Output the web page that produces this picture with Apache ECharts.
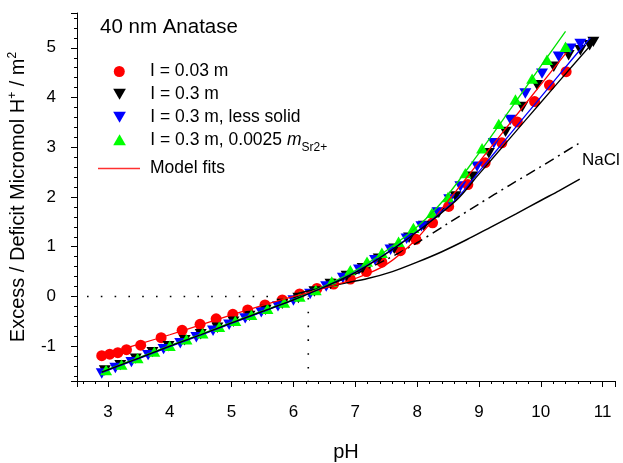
<!DOCTYPE html>
<html><head><meta charset="utf-8">
<script src="https://cdn.jsdelivr.net/npm/echarts@6/dist/echarts.min.js"></script>
<style>html,body{margin:0;padding:0;background:#fff}#c{width:623px;height:463px}</style>
</head><body><div id="c"></div>
<script>
const FONT = 'Liberation Sans, Arial, Helvetica, sans-serif';

// Axis ranges
const xRange = [2.5, 11.2];
const yRange = [-1.7, 5.7];

// Legend / series names
const names = ['I = 0.03 m', 'I = 0.3 m', 'I = 0.3 m, less solid', 'I = 0.3 m, 0.0025 mSr2+', 'Model fits'];

// I = 0.03 m (red circles)
const redPH = [2.90,3.03,3.16,3.30,3.53,3.86,4.20,4.49,4.75,5.02,5.26,5.54,5.82,6.10,6.38,6.65,6.92,7.18,7.43,7.73,7.98,8.25,8.51,8.82,9.10,9.37,9.62,9.90,10.14,10.41];
const redV  = [-1.19,-1.16,-1.13,-1.07,-0.98,-0.83,-0.68,-0.56,-0.45,-0.36,-0.27,-0.17,-0.07,0.05,0.16,0.25,0.35,0.50,0.69,0.92,1.15,1.48,1.81,2.25,2.69,3.09,3.51,3.92,4.25,4.52];

// I = 0.3 m (black down triangles)
const blackPH = [2.95,3.20,3.45,3.72,3.98,4.24,4.50,4.77,5.03,5.29,5.55,5.82,6.08,6.34,6.60,6.86,7.12,7.38,7.63,7.87,8.11,8.35,8.62,8.89,9.16,9.43,9.70,9.94,10.21,10.45,10.64,10.79,10.85];
const blackV  = [-1.49,-1.38,-1.25,-1.12,-1.00,-0.88,-0.76,-0.63,-0.51,-0.39,-0.27,-0.15,-0.03,0.10,0.25,0.41,0.57,0.76,0.96,1.18,1.42,1.68,2.01,2.41,2.88,3.31,3.81,4.25,4.62,4.85,4.95,5.05,5.12];

// I = 0.3 m, less solid (blue down triangles)
const bluePH = [2.90,3.12,3.38,3.65,3.90,4.17,4.43,4.70,4.96,5.22,5.48,5.75,6.00,6.27,6.53,6.80,7.06,7.32,7.57,7.83,8.07,8.33,8.52,8.70,8.97,9.24,9.51,9.75,10.02,10.29,10.48,10.64];
const blueV  = [-1.55,-1.44,-1.32,-1.18,-1.06,-0.94,-0.82,-0.69,-0.57,-0.44,-0.32,-0.20,-0.08,0.05,0.20,0.37,0.54,0.73,0.94,1.16,1.41,1.69,1.95,2.21,2.61,3.08,3.55,4.08,4.48,4.82,4.98,5.08];

// I = 0.3 m, 0.0025 m Sr2+ (green up triangles)
const greenPH = [2.97,3.22,3.48,3.75,4.00,4.27,4.53,4.80,5.06,5.32,5.58,5.85,6.10,6.36,6.62,6.92,7.19,7.43,7.70,7.94,8.24,8.50,8.78,9.05,9.32,9.59,9.86,10.10,10.40];
const greenV  = [-1.48,-1.37,-1.24,-1.11,-0.99,-0.86,-0.74,-0.61,-0.49,-0.37,-0.25,-0.12,0.00,0.13,0.30,0.53,0.70,0.88,1.10,1.38,1.68,2.00,2.48,2.98,3.47,3.96,4.38,4.76,5.02];

// Model fits
const redFitPH = [2.85,3.0,3.5,4.0,4.5,5.0,5.5,6.0,6.5,7.0,7.5,8.0,8.5,9.0,9.5,10.0,10.41];
const redFitV  = [-1.20,-1.15,-0.96,-0.77,-0.57,-0.37,-0.18,0.00,0.17,0.36,0.64,1.17,1.92,2.70,3.48,4.26,4.90];
const blackFitPH = [2.9,3.5,4.0,4.5,5.0,5.5,6.0,6.5,7.0,7.5,8.0,8.64,9.0,9.5,10.0,10.5,10.91];
const blackFitV  = [-1.52,-1.24,-1.00,-0.77,-0.53,-0.30,-0.07,0.19,0.48,0.86,1.30,1.94,2.46,3.18,3.90,4.62,5.20];
const blueFitPH = [2.9,3.5,4.0,4.5,5.0,5.5,6.0,6.5,7.0,7.5,8.0,8.62,9.0,9.5,10.0,10.5,10.8];
const blueFitV  = [-1.53,-1.25,-1.01,-0.78,-0.54,-0.31,-0.07,0.19,0.49,0.87,1.31,1.94,2.51,3.26,4.01,4.76,5.20];
const greenFitPH = [2.9,3.5,4.0,4.5,5.0,5.5,6.0,6.5,7.0,7.5,8.0,8.43,9.0,9.5,10.0,10.4];
const greenFitV  = [-1.51,-1.23,-0.99,-0.76,-0.52,-0.29,-0.06,0.21,0.52,0.92,1.40,1.94,2.88,3.75,4.63,5.33];

// NaCl reference curves
const naclSolidPH = [6.0,6.1,6.3,6.8,7.2,7.6,8.0,8.4,8.8,9.2,9.6,10.0,10.3,10.63];
const naclSolidV  = [0.02,0.07,0.13,0.26,0.36,0.50,0.69,0.90,1.14,1.40,1.66,1.93,2.13,2.36];
const naclDashPH = [6.0,6.5,7.0,7.5,8.0,8.5,9.0,9.5,10.0,10.63];
const naclDashV  = [-0.03,0.20,0.45,0.74,1.08,1.47,1.86,2.24,2.61,3.09];

// Dotted guide lines (pH of zero charge)
const pzc = 6.24;
const guideH = [[xRange[0], 0], [pzc, 0]];
const guideV = [[pzc, 0], [pzc, yRange[0]]];

const zip = (xs, ys) => xs.map((x, i) => [x, ys[i]]);
const DOWN = 'path://M0,0L12,0L6,10.4Z';
const UP = 'path://M6,0L12,10.4L0,10.4Z';
const LINEICON = 'path://M0,0L42,0L42,1.4L0,1.4Z';
const intLabel = v => (Math.abs(v - Math.round(v)) < 1e-6 ? String(Math.round(v)) : '');

const chart = echarts.init(document.getElementById('c'), null, {renderer: 'canvas'});

const baseText = {fontFamily: FONT, color: '#000'};
function legendBlock(name, left, top, icon, extra) {
  return Object.assign({
    data: [{name: name, icon: icon}],
    left: left, top: top, orient: 'vertical', padding: 0,
    itemWidth: 51.4, itemHeight: 11, selectedMode: false,
    textStyle: Object.assign({fontSize: 17.5, lineHeight: 20}, baseText)
  }, extra || {});
}

const option = {
  animation: false,
  backgroundColor: '#fff',
  title: {
    text: '40 nm Anatase', left: 100, top: 17, padding: 0,
    textStyle: {fontFamily: FONT, fontSize: 20.5, fontWeight: 'normal', color: '#000'}
  },
  legend: [
    legendBlock(names[0], 113.8, 61.5, 'circle'),
    legendBlock(names[1], 113.2, 84.2, DOWN),
    legendBlock(names[2], 113.2, 107.2, DOWN),
    legendBlock(names[3], 113.2, 125.8, UP, {
      formatter: () => '{n|I = 0.3 m, 0.0025 }{i|m}{s|Sr2+}',
      textStyle: {fontFamily: FONT, color: '#000', fontSize: 17.5, rich: {
        n: {fontFamily: FONT, fontSize: 17.5, lineHeight: 20, color: '#000'},
        i: {fontFamily: FONT, fontSize: 17.5, lineHeight: 20, fontStyle: 'italic', color: '#000'},
        s: {fontFamily: FONT, fontSize: 12, lineHeight: 12, padding: [16, 0, 0, 0], color: '#000'}
      }}
    }),
    {
      data: [{name: names[4], icon: LINEICON}], left: 98, top: 158.5, padding: 0,
      itemWidth: 42, itemHeight: 11, selectedMode: false,
      textStyle: Object.assign({fontSize: 17.5, lineHeight: 20, padding: [0, 0, 0, 5]}, baseText)
    }
  ],
  grid: {left: 77, right: 8, top: 13, bottom: 82, containLabel: false, outerBoundsMode: 'none'},
  xAxis: {
    type: 'value', min: xRange[0], max: xRange[1], minInterval: 1, maxInterval: 1,
    name: 'pH', nameLocation: 'middle', nameGap: 61,
    nameTextStyle: {fontFamily: FONT, fontSize: 20, color: '#000'},
    axisLine: {show: true, onZero: false, lineStyle: {color: '#000', width: 1}},
    axisTick: {show: true, inside: false, length: 6, lineStyle: {color: '#000'}},
    minorTick: {show: true, splitNumber: 5, length: 3, lineStyle: {color: '#000'}},
    axisLabel: {formatter: intLabel, margin: 23, fontFamily: FONT, fontSize: 17, color: '#000'},
    splitLine: {show: false}, minorSplitLine: {show: false}
  },
  yAxis: {
    type: 'value', min: yRange[0], max: yRange[1], minInterval: 1, maxInterval: 1,
    name: '{b|Excess / Deficit Micromol H}{p|+}{b| / m}{p|2}',
    nameLocation: 'middle', nameGap: 40,
    nameTextStyle: {fontFamily: FONT, fontSize: 20, color: '#000', rich: {
      b: {fontFamily: FONT, fontSize: 20, lineHeight: 24, color: '#000'},
      p: {fontFamily: FONT, fontSize: 12, lineHeight: 12, padding: [0, 0, 11, 0], color: '#000'}
    }},
    axisLine: {show: true, onZero: false, lineStyle: {color: '#000', width: 1}},
    axisTick: {show: true, inside: false, length: 6, lineStyle: {color: '#000'}},
    minorTick: {show: true, splitNumber: 5, length: 3, lineStyle: {color: '#000'}},
    axisLabel: {formatter: intLabel, margin: 21, fontFamily: FONT, fontSize: 17, color: '#000'},
    splitLine: {show: false}, minorSplitLine: {show: false}
  },
  graphic: [{
    type: 'text', left: 582, top: 151.5,
    style: {text: 'NaCl', font: '17px ' + FONT, fill: '#000'}
  }],
  series: [
    {name: names[0], type: 'scatter', data: zip(redPH, redV), symbol: 'circle', symbolSize: 11,
     itemStyle: {color: '#ff0000', opacity: 1}, z: 2},
    {name: names[1], type: 'scatter', data: zip(blackPH, blackV), symbol: DOWN, symbolSize: [12, 10.4],
     itemStyle: {color: '#000000', opacity: 1}, z: 2},
    {name: names[2], type: 'scatter', data: zip(bluePH, blueV), symbol: DOWN, symbolSize: [12, 10.4],
     itemStyle: {color: '#0000ff', opacity: 1}, z: 2},
    {name: names[3], type: 'scatter', data: zip(greenPH, greenV), symbol: UP, symbolSize: [12, 10.4],
     itemStyle: {color: '#00ff00', opacity: 1}, z: 2},
    {name: 'NaCl', type: 'line', data: zip(naclSolidPH, naclSolidV), symbol: 'none', smooth: 0.3,
     lineStyle: {color: '#000', width: 1.5}, z: 3},
    {name: 'NaCl dd', type: 'line', data: zip(naclDashPH, naclDashV), symbol: 'none', smooth: 0.3,
     lineStyle: {color: '#000', width: 1.5, type: [10, 5, 2, 5]}, z: 3},
    {name: 'fit green', type: 'line', data: zip(greenFitPH, greenFitV), symbol: 'none', smooth: 0.3,
     lineStyle: {color: '#00e000', width: 1.3}, z: 4},
    {name: names[4], type: 'line', data: zip(redFitPH, redFitV), symbol: 'none', smooth: 0.3,
     lineStyle: {color: '#ff0000', width: 1.3}, itemStyle: {color: '#ff3030'}, z: 4},
    {name: 'fit blue', type: 'line', data: zip(blueFitPH, blueFitV), symbol: 'none', smooth: 0.3,
     lineStyle: {color: '#0000ff', width: 1.3}, z: 4},
    {name: 'fit black', type: 'line', data: zip(blackFitPH, blackFitV), symbol: 'none', smooth: 0.3,
     lineStyle: {color: '#000000', width: 1.3}, z: 4},
    {name: 'guide h', type: 'line', data: guideH, symbol: 'none',
     lineStyle: {color: '#000', width: 1.6, type: [1.6, 12.2], dashOffset: 3.8}, z: 1},
    {name: 'guide v', type: 'line', data: guideV, symbol: 'none',
     lineStyle: {color: '#000', width: 1.6, type: [1.6, 12.2], dashOffset: -1.5}, z: 1}
  ]
};
chart.setOption(option);
</script>
</body></html>
